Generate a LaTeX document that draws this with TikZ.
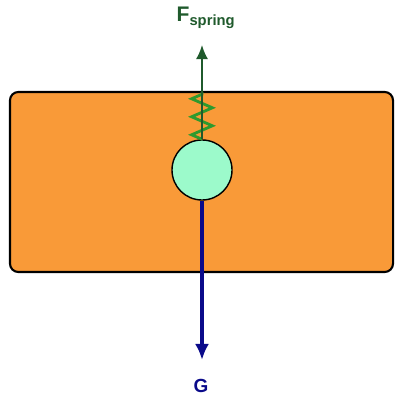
\documentclass[tikz,border=0pt]{standalone}
\usepackage{fontspec}
\setmainfont{Liberation Sans}
\usepackage{tikz}
\usetikzlibrary{arrows.meta, positioning, decorations.pathmorphing}
\definecolor{fbox}{HTML}{F99A38}
\definecolor{fball}{HTML}{9CFACB}
\definecolor{fspring}{HTML}{2E9A2E}
\definecolor{fdgreen}{HTML}{1F5A2C}
\definecolor{fnavy}{HTML}{0A0A8A}
\tikzset{
  blockbox/.style={draw=black, line width=1.5pt, fill=fbox, rounded corners=6pt,
                   minimum width=9.575cm, minimum height=4.5cm, inner sep=0pt},
  ballnode/.style={circle, draw=black, line width=1pt, fill=fball,
                   minimum size=1.5cm, inner sep=0pt},
  springline/.style={fspring, line width=2pt,
                     decorate, decoration={zigzag, segment length=0.45cm, amplitude=0.26cm}},
  uparr/.style={-{Latex[length=0.35cm, width=0.3cm]}, fdgreen, line width=1.3pt},
  downarr/.style={-{Latex[length=0.4cm, width=0.35cm]}, fnavy, line width=2.6pt},
  forcelabel/.style={font=\bfseries, inner sep=0pt},
}
\begin{document}
\begin{tikzpicture}[x=0.025cm, y=-0.025cm]
  \useasboundingbox (0,0) rectangle (394,406);

  %% Block and ball
  \node[blockbox] (block) at (201.5,182) {};
  \node[ballnode] (ball) at (202,170) {};

  %% Spring up to the top edge
  \coordinate (stop) at (202,92);
  \draw[springline] (ball.north) -- (stop);

  %% Forces
  \coordinate (ftip) at (202,45);
  \coordinate (gtip) at (202,360);
  \draw[uparr] (ball.north) -- (ftip);
  \draw[downarr] (ball.south) -- (gtip);
  \node[forcelabel, fdgreen, font=\fontsize{15}{18}\selectfont\bfseries] (flabel) at (206,18) {F\textsubscript{spring}};
  \node[forcelabel, fnavy, font=\fontsize{13.5}{16}\selectfont\bfseries] (glabel) at (201,386) {G};

\end{tikzpicture}
\end{document}
